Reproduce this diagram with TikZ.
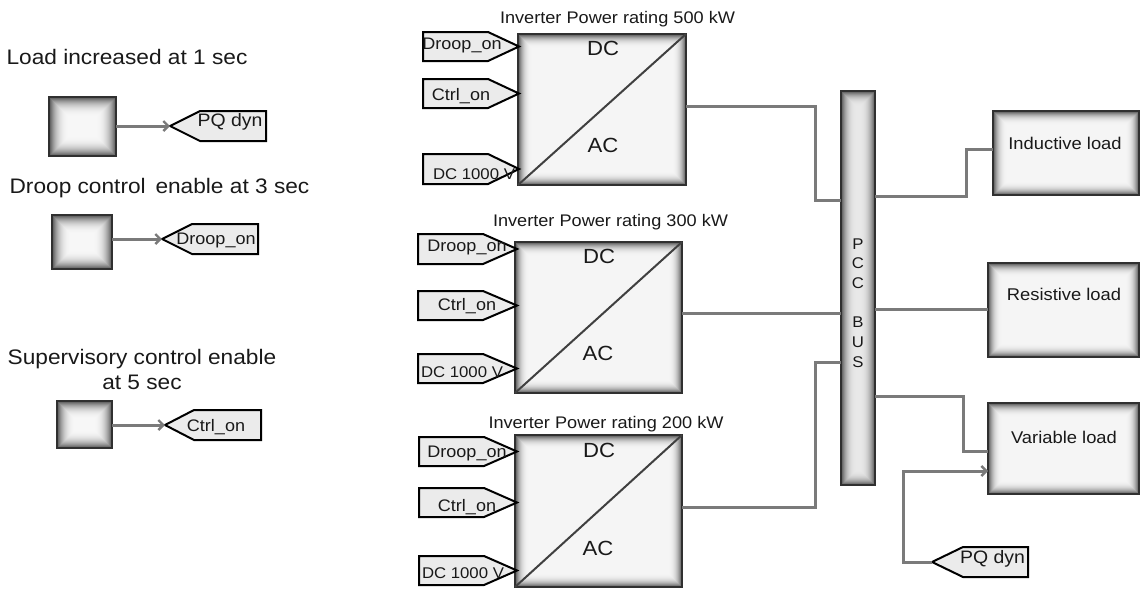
\documentclass[tikz,border=0pt]{standalone}
\usepackage{fontspec}
\setmainfont[FakeStretch=1.08]{Liberation Sans}
\usetikzlibrary{arrows.meta}
\definecolor{wire}{HTML}{7A7A7A}
\definecolor{edge}{HTML}{303030}
\definecolor{tagfill}{HTML}{EBEBEB}
\tikzset{
  bevel/.style 2 args={draw=edge,line width=1.7pt,inner sep=0pt,outer sep=0pt,fill=white,
    path picture={
      \foreach \i in {0,0.5,...,#1}{
        \pgfmathsetmacro{\p}{#2+(68-#2)*pow(1-\i/#1,2.8)}
        \fill[black!\p!white]
          ([shift={(\i pt,-\i pt)}]path picture bounding box.north west) rectangle
          ([shift={(-\i pt,\i pt)}]path picture bounding box.south east);
      }
    }},
  wireline/.style={draw=wire,line width=3pt,line join=miter},
  wirearrow/.style={wireline,-{Straight Barb[length=5pt,width=10pt,line width=2.4pt]}},
  tagoutline/.style={draw=black,line width=2pt,fill=tagfill,line join=miter},
  txt/.style={inner sep=0pt,outer sep=0pt,text=black!90},
  big/.style={txt,font=\fontsize{21}{25}\selectfont},
  mid/.style={txt,font=\fontsize{16.8}{20}\selectfont},
  lab/.style={txt,font=\fontsize{18}{21}\selectfont},
  portlab/.style={txt,font=\fontsize{16.7}{20}\selectfont},
  loadlab/.style={txt,font=\fontsize{17}{20}\selectfont},
  small/.style={txt,font=\fontsize{15.5}{18}\selectfont},
  dcac/.style={txt,font=\fontsize{20.5}{24}\selectfont}
}
% box: [depth/base], name, x1, y1, x2, y2
\newcommand{\bevelbox}[6][{15}{4}]{%
  \node[bevel=#1,minimum width={(#5-#3)*1pt},minimum height={(#6-#4)*1pt}] (#2) at ({(#3+#5)/2},{(#4+#6)/2}) {};}
% left-pointing tag: name, tip x, shoulder x, right x, top y, bottom y
\newcommand{\tagleft}[6]{%
  \coordinate (#1) at (#2,{(#5+#6)/2});
  \draw[tagoutline] (#1) -- (#3,#5) -- (#4,#5) -- (#4,#6) -- (#3,#6) -- cycle;}
% right-pointing tag: name, left x, shoulder x, tip x, top y, bottom y
\newcommand{\tagright}[6]{%
  \coordinate (#1) at (#4,{(#5+#6)/2});
  \draw[tagoutline] (#2,#5) -- (#3,#5) -- (#1) -- (#3,#6) -- (#2,#6) -- cycle;}
% inverter: name, x1, y1, x2, y2
\newcommand{\inverter}[5]{%
  \bevelbox{#1}{#2}{#3}{#4}{#5}
  \draw[draw=black!75,line width=2pt] (#1.south west) -- (#1.north east);}
\begin{document}
\begin{tikzpicture}[x=1pt,y=-1pt]
\useasboundingbox (0,0) rectangle (1142,590);
% left column
\node[big] (t1) at (127,57) {Load increased at 1 sec};
\bevelbox[{22}{3}]{s1}{49}{97}{116}{156}
\tagleft{p1}{170}{200}{266}{111}{141}
\node[lab] (p1t) at (230,122) {PQ dyn};
\draw[wirearrow] (s1.east |- p1) -- (p1);

\node[big] (t2) at (159.5,188) {Droop control\, enable at 3 sec};
\bevelbox[{21}{3}]{s2}{52}{215}{112}{269}
\tagleft{p2}{162}{192}{258}{224}{254}
\node[portlab] (p2t) at (216,240) {Droop\_on};
\draw[wirearrow] (s2.east |- p2) -- (p2);

\node[big,align=center] (t3) at (142,369) {Supervisory control enable\\at 5 sec};
\bevelbox[{20}{3}]{s3}{57}{401}{112}{448}
\tagleft{p3}{165}{194}{261}{410}{440}
\node[portlab] (p3t) at (216,427) {Ctrl\_on};
\draw[wirearrow] (s3.east |- p3) -- (p3);

% inverter 1
\node[mid] (h1) at (617.5,19) {Inverter Power rating 500 kW};
\inverter{i1}{518}{34}{686}{185}
\node[dcac] (i1d) at (603,48) {DC};
\node[dcac] (i1a) at (603,145) {AC};
\tagright{a1}{423}{488}{519}{32}{61}
\node[portlab] (a1t) at (462,45) {Droop\_on};
\tagright{b1}{423}{488}{519}{79}{108}
\node[portlab] (b1t) at (461,96) {Ctrl\_on};
\tagright{c1}{423}{488}{519}{154}{184}
\node[small] (c1t) at (474,174) {DC 1000 V};

% inverter 2
\node[mid] (h2) at (610.5,222) {Inverter Power rating 300 kW};
\inverter{i2}{515}{242}{682}{393}
\node[dcac] (i2d) at (599,256) {DC};
\node[dcac] (i2a) at (598,353) {AC};
\tagright{a2}{418}{483}{517}{234}{264}
\node[portlab] (a2t) at (467,247) {Droop\_on};
\tagright{b2}{418}{483}{517}{291}{320}
\node[portlab] (b2t) at (467,306) {Ctrl\_on};
\tagright{c2}{418}{483}{517}{354}{383}
\node[small] (c2t) at (462,372) {DC 1000 V};

% inverter 3
\node[mid] (h3) at (606,424) {Inverter Power rating 200 kW};
\inverter{i3}{515}{435}{682}{587}
\node[dcac] (i3d) at (599,450) {DC};
\node[dcac] (i3a) at (598,548) {AC};
\tagright{a3}{419}{484}{517}{437}{466}
\node[portlab] (a3t) at (467,453) {Droop\_on};
\tagright{b3}{419}{484}{517}{488}{517}
\node[portlab] (b3t) at (467,507) {Ctrl\_on};
\tagright{c3}{419}{484}{517}{556}{585}
\node[small] (c3t) at (463,573) {DC 1000 V};

% bus
\bevelbox[{16.5}{9}]{bus}{841}{91}{875}{485}
\node[txt,align=center,font=\fontsize{15.5}{19.7}\selectfont] (bust) at (858,303) {P\\C\\C\\[19.7pt]B\\U\\S};

% loads
\bevelbox{l1}{993}{111}{1139}{195}
\node[loadlab] (l1t) at (1065,143) {Inductive load};
\bevelbox{l2}{988}{263}{1139}{357}
\node[loadlab] (l2t) at (1064,294) {Resistive load};
\bevelbox{l3}{988}{403}{1139}{494}
\node[loadlab] (l3t) at (1064,437) {Variable load};
\tagleft{p4}{932}{963}{1028}{547}{577}
\node[lab] (p4t) at (992.5,559) {PQ dyn};

% wires
\draw[wireline] (i1.east |- 0,106) -- (815,106) -- (815,200) -- (bus.west |- 0,200);
\draw[wireline] (i2.east |- 0,313) -- (bus.west |- 0,313);
\draw[wireline] (i3.east |- 0,507) -- (815,507) -- (815,362) -- (bus.west |- 0,362);
\draw[wireline] (bus.east |- 0,196) -- (966,196) -- (966,149) -- (l1.west |- 0,149);
\draw[wireline] (bus.east |- 0,309) -- (l2.west |- 0,309);
\draw[wireline] (bus.east |- 0,396) -- (963,396) -- (963,451) -- (l3.west |- 0,451);
\draw[wirearrow] (p4) -- (903,562) -- (903,471) -- (l3.west |- 0,471);
\end{tikzpicture}
\end{document}
